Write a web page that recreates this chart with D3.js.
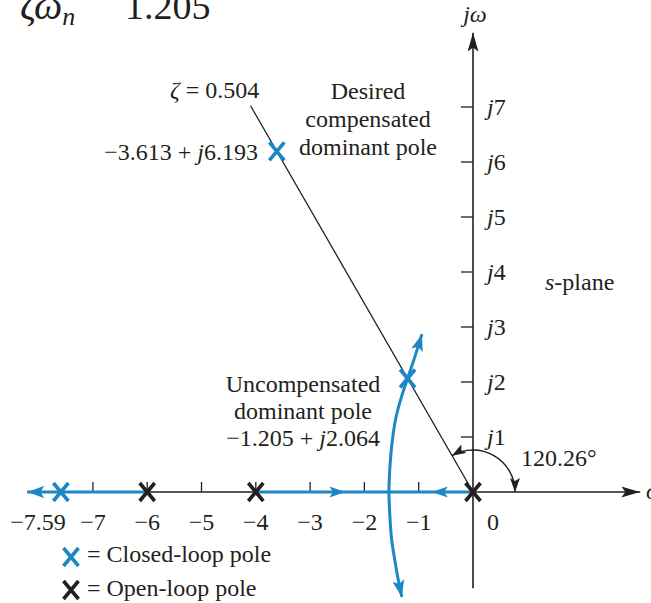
<!DOCTYPE html>
<html>
<head>
<meta charset="utf-8">
<script src="https://cdn.jsdelivr.net/npm/d3@7"></script>
<style>
  html, body { margin: 0; padding: 0; background: #fff; }
  svg { display: block; }
  text { font-family: "Liberation Serif", "Times New Roman", serif; fill: #231f20; }
</style>
</head>
<body>
<svg id="chart" width="651" height="603"></svg>
<script>
// Root locus of G(s) = K / (s (s + 4)(s + 6)) with the ζ = 0.504 damping line.
const realTicks = [-7, -6, -5, -4, -3, -2, -1];
const realTickLabels = ["−7", "−6", "−5", "−4", "−3", "−2", "−1"];
const imagTicks = [1, 2, 3, 4, 5, 6, 7];
const imagTickNumbers = ["1", "2", "3", "4", "5", "6", "7"];

const openLoopPoles = [0, -4, -6];
const closedLoopRe = [-7.59, -3.613, -1.205];
const closedLoopIm = [0, 6.193, 2.064];

const zeta = 0.504;
const zetaAngle = 120.26;          // degrees, measured from the positive real axis
const zetaLineLength = 8.13;       // how far the damping line is drawn

// Complex branches leaving the breakaway point
const upperRe = [-1.55, -1.53, -1.49, -1.42, -1.32, -1.205, -1.08, -0.94];
const upperIm = [0, 0.45, 0.9, 1.35, 1.72, 2.064, 2.43, 2.87];
const lowerRe = [-1.55, -1.53, -1.50, -1.44, -1.38, -1.31];
const lowerIm = [0, -0.45, -0.85, -1.24, -1.58, -1.91];

// Real-axis locus segments [from, to]
const realSegments = [[-4, 0], [-6, -8.21]];
// Direction arrows on the real axis [tip position, direction]
const realArrowTips = [-2.35, -0.76];
const realArrowDirs = [1, -1];

const BLUE = "#1d87c6";
const INK = "#231f20";
const FS = 24;

const svg = d3.select("#chart");
const x = d3.scaleLinear().domain([-8, 0]).range([473 - 8 * 54.3, 473]);
const y = d3.scaleLinear().domain([0, 7]).range([492, 107]);

// Arrowhead markers
const defs = svg.append("defs");
function marker(id, color, len, half) {
  defs.append("marker")
    .attr("id", id)
    .attr("viewBox", `0 0 ${len} ${half * 2}`)
    .attr("refX", len).attr("refY", half)
    .attr("markerWidth", len).attr("markerHeight", half * 2)
    .attr("markerUnits", "userSpaceOnUse")
    .attr("orient", "auto-start-reverse")
    .append("path")
    .attr("d", `M0,0 L${len},${half} L0,${half * 2} L${len * 0.22},${half} Z`)
    .attr("fill", color);
}
marker("axisHead", INK, 19, 5.5);
marker("arcHead", INK, 14, 5);
marker("blueHead", BLUE, 17, 6);

// Axes
svg.append("line")
  .attr("x1", x(-8.21)).attr("y1", y(0))
  .attr("x2", x(3.08)).attr("y2", y(0))
  .attr("stroke", INK).attr("stroke-width", 1.6)
  .attr("marker-end", "url(#axisHead)");
svg.append("line")
  .attr("x1", x(0)).attr("y1", y(-1.75))
  .attr("x2", x(0)).attr("y2", y(8.35))
  .attr("stroke", INK).attr("stroke-width", 1.6)
  .attr("marker-end", "url(#axisHead)");

// Tick marks
svg.append("g").selectAll("line").data(realTicks).join("line")
  .attr("x1", d => x(d)).attr("x2", d => x(d))
  .attr("y1", y(0) - 10).attr("y2", y(0))
  .attr("stroke", INK).attr("stroke-width", 1.3);
svg.append("g").selectAll("line").data(imagTicks).join("line")
  .attr("x1", x(0) - 12).attr("x2", x(0))
  .attr("y1", d => y(d)).attr("y2", d => y(d))
  .attr("stroke", INK).attr("stroke-width", 1.3);

// Tick labels
svg.append("g").selectAll("text").data(realTicks).join("text")
  .attr("x", d => x(d)).attr("y", 530)
  .attr("text-anchor", "middle").attr("font-size", FS)
  .text((d, i) => realTickLabels[i]);
svg.append("text").attr("x", x(-7.59) + 5).attr("y", 530)
  .attr("text-anchor", "end").attr("font-size", FS).text("−7.59");
svg.append("text").attr("x", x(0) + 20).attr("y", 530)
  .attr("text-anchor", "middle").attr("font-size", FS).text("0");

const yl = svg.append("g").selectAll("text").data(imagTicks).join("text")
  .attr("x", x(0) + 14).attr("y", d => y(d) + 8)
  .attr("font-size", FS);
yl.append("tspan").attr("font-style", "italic").text("j");
yl.append("tspan").text((d, i) => imagTickNumbers[i]);

// Axis names
svg.append("text").attr("x", x(0) + 2).attr("y", 22)
  .attr("text-anchor", "middle").attr("font-size", FS).attr("font-style", "italic")
  .text("jω");
svg.append("text").attr("x", 646).attr("y", 499)
  .attr("font-size", FS).attr("font-style", "italic").text("σ");

// Damping line ζ = 0.504
const th = zetaAngle * Math.PI / 180;
svg.append("line")
  .attr("x1", x(0)).attr("y1", y(0))
  .attr("x2", x(zetaLineLength * Math.cos(th)))
  .attr("y2", y(zetaLineLength * Math.sin(th)))
  .attr("stroke", INK).attr("stroke-width", 1.3);

// Angle arc with arrowheads at both ends
const R = 42;
const cx = x(0), cy = y(0);
svg.append("path")
  .attr("d", `M${cx + R},${cy} A${R},${R} 0 0 0 ${cx + R * Math.cos(th)},${cy - R * Math.sin(th)}`)
  .attr("fill", "none").attr("stroke", INK).attr("stroke-width", 1.4)
  .attr("marker-start", "url(#arcHead)")
  .attr("marker-end", "url(#arcHead)");

// Real-axis locus
svg.append("g").selectAll("line").data(realSegments).join("line")
  .attr("x1", d => x(d[0])).attr("x2", d => x(d[1]))
  .attr("y1", y(0)).attr("y2", y(0))
  .attr("stroke", BLUE).attr("stroke-width", 3)
  .attr("marker-end", (d, i) => i === 1 ? "url(#blueHead)" : null);
svg.append("g").selectAll("path").data(realArrowTips).join("path")
  .attr("d", (d, i) => {
    const tx = x(d), s = realArrowDirs[i], L = 16, h = 5.5;
    return `M${tx},${y(0)} L${tx - s * L},${y(0) - h} L${tx - s * L * 0.78},${y(0)} L${tx - s * L},${y(0) + h} Z`;
  })
  .attr("fill", BLUE);

// Complex branches
const line = d3.line().x(d => x(d[0])).y(d => y(d[1])).curve(d3.curveCatmullRom);
const upper = upperRe.map((r, i) => [r, upperIm[i]]);
const lower = lowerRe.map((r, i) => [r, lowerIm[i]]);
[upper, lower].forEach(pts => {
  svg.append("path").attr("d", line(pts))
    .attr("fill", "none").attr("stroke", BLUE).attr("stroke-width", 3)
    .attr("marker-end", "url(#blueHead)");
});

// Pole markers
function cross(g, px, py, color) {
  g.append("path")
    .attr("d", `M${px - 7.5},${py - 9} L${px + 7.5},${py + 9} M${px - 7.5},${py + 9} L${px + 7.5},${py - 9}`)
    .attr("stroke", color).attr("stroke-width", 3.6).attr("fill", "none");
}
const poles = svg.append("g");
openLoopPoles.forEach(p => cross(poles, x(p), y(0), INK));
closedLoopRe.forEach((r, i) => cross(poles, x(r), y(closedLoopIm[i]), BLUE));

// Annotations
const zt = svg.append("text").attr("x", 170).attr("y", 98).attr("font-size", FS);
zt.append("tspan").attr("font-style", "italic").text("ζ");
zt.append("tspan").text(" = " + zeta.toFixed(3));

["Desired", "compensated", "dominant pole"].forEach((t, i) => {
  svg.append("text").attr("x", 368).attr("y", 99 + i * 28)
    .attr("text-anchor", "middle").attr("font-size", FS).text(t);
});

const dp = svg.append("text").attr("x", 258).attr("y", 160)
  .attr("text-anchor", "end").attr("font-size", FS);
dp.append("tspan").text(closedLoopRe[1].toFixed(3).replace("-", "−") + " + ");
dp.append("tspan").attr("font-style", "italic").text("j");
dp.append("tspan").text(closedLoopIm[1].toFixed(3));

["Uncompensated", "dominant pole"].forEach((t, i) => {
  svg.append("text").attr("x", 303).attr("y", 392 + i * 27)
    .attr("text-anchor", "middle").attr("font-size", FS).text(t);
});
const up = svg.append("text").attr("x", 303).attr("y", 446)
  .attr("text-anchor", "middle").attr("font-size", FS);
up.append("tspan").text(closedLoopRe[2].toFixed(3).replace("-", "−") + " + ");
up.append("tspan").attr("font-style", "italic").text("j");
up.append("tspan").text(closedLoopIm[2].toFixed(3));

svg.append("text").attr("x", 521).attr("y", 466).attr("font-size", FS)
  .text(zetaAngle.toFixed(2) + "°");

const sp = svg.append("text").attr("x", 545).attr("y", 290).attr("font-size", FS);
sp.append("tspan").attr("font-style", "italic").text("s");
sp.append("tspan").text("-plane");

// Partial heading at the top
const hd = svg.append("text").attr("x", 20).attr("y", 19).attr("font-size", 40);
hd.append("tspan").attr("font-style", "italic").text("ζω");
hd.append("tspan").attr("font-style", "italic").attr("font-size", 26).attr("dy", 6).text("n");
svg.append("text").attr("x", 125).attr("y", 19).attr("font-size", 38).text("1.205");

// Legend
const lg = svg.append("g");
cross(lg, 71, 557, BLUE);
cross(lg, 71, 590, INK);
lg.append("text").attr("x", 87).attr("y", 562).attr("font-size", FS).text("= Closed-loop pole");
lg.append("text").attr("x", 87).attr("y", 596).attr("font-size", FS).text("= Open-loop pole");
</script>
</body>
</html>
